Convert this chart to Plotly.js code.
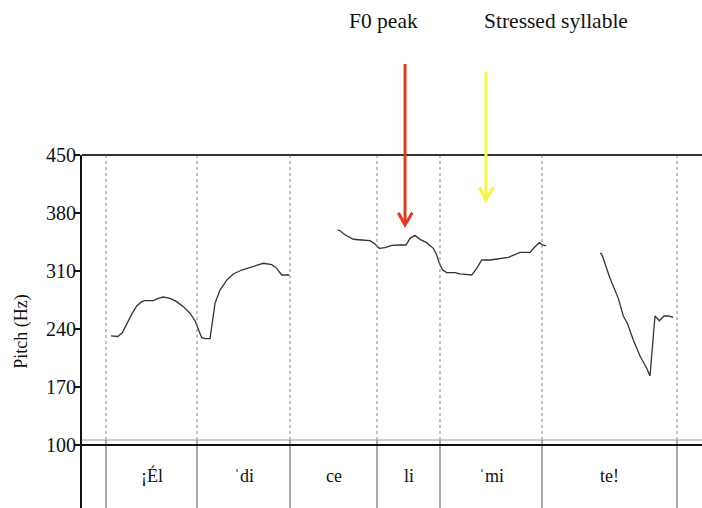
<!DOCTYPE html>
<html>
<head>
<meta charset="utf-8">
<script src="https://cdn.plot.ly/plotly-3.0.1.min.js"></script>
<style>html,body{margin:0;padding:0;background:#fff}#chart{width:702px;height:508px}</style>
</head>
<body>
<div id="chart"></div>
<script>
// ---- data (time in seconds, pitch in Hz) ----
const seg1Time = [0.0725,0.0893,0.1008,0.1118,0.1243,0.1368,0.1493,0.1575,0.1783,0.1908,0.2033,0.22,0.2368,0.2533,0.27,0.2825,0.2908,0.2993,0.3075,0.32,0.3325,0.345,0.3618,0.3783,0.3993,0.42,0.4368,0.4533,0.4743,0.4868,0.4993,0.5183];
const seg1Hz   = [231.6,231,235.5,246.9,258,267.8,273,274.2,274.2,277,278.6,277,273,267,259,250,240.8,229.5,228.3,228.3,271,287,299,306.4,311.2,314.5,317.6,319.3,317.6,313.2,305.2,305.2];
const seg2Time = [0.6393,0.645,0.6575,0.6783,0.6993,0.72,0.7325,0.7433,0.7575,0.7743,0.795,0.81,0.82,0.8325,0.845,0.8618,0.8783,0.8868,0.8933,0.9018,0.9118,0.9325,0.945,0.9743,0.9868,0.9993,1.02,1.045,1.0658,1.095,1.12,1.1325,1.1433,1.1518,1.16];
const seg2Hz   = [359.5,358.6,353.8,348.3,347.4,346.6,342.6,337.4,338.2,341,341.4,341.4,349.4,353,348.2,344.2,337.4,329.3,319.3,311.2,308,308,306.4,305.2,313.2,323.3,323.3,324.9,326.5,332.5,332.5,339.3,344.2,341.4,340.2];
const seg3Time = [1.295,1.2993,1.32,1.3408,1.3533,1.3633,1.3783,1.395,1.4118,1.42,1.4325,1.4433,1.455,1.4658,1.4783];
const seg3Hz   = [331.3,330.5,301.2,277,255.7,246.9,226.7,207.4,192.6,183.3,255.7,250,255.7,255.7,254.1];
const boundaries = [0.06,0.2875,0.52,0.7375,0.895,1.15,1.4875];
const syllables  = ["¡Él","ˈdi","ce","li","ˈmi","te!"];
const pitchTicks = [100,170,240,310,380,450];
const notes = ["F0 peak","Stressed syllable"];

// ---- layout helpers (pixel -> paper) ----
const L=82, R=702, T=155, B=508;
const px = x => (x-L)/(R-L);
const py = y => (B-y)/(B-T);
const yMax = 450, yMin = 450 - (B-T)*350/290;
const serif = "Times New Roman";

const lineStyle = {color:'#333', width:1.3};
const traces = [
  {x:seg1Time, y:seg1Hz, mode:'lines', line:lineStyle, hoverinfo:'skip'},
  {x:seg2Time, y:seg2Hz, mode:'lines', line:lineStyle, hoverinfo:'skip'},
  {x:seg3Time, y:seg3Hz, mode:'lines', line:lineStyle, hoverinfo:'skip'}
];

const tierTop = 106;
const shapes = [];
boundaries.forEach(b => {
  shapes.push({type:'line', xref:'x', yref:'y', x0:b, x1:b, y0:tierTop, y1:450, line:{color:'#888', width:1, dash:'dot'}});
  shapes.push({type:'line', xref:'x', yref:'y', x0:b, x1:b, y0:yMin, y1:tierTop, line:{color:'#555', width:1}});
});
shapes.push({type:'line', xref:'paper', yref:'paper', x0:0, x1:1, y0:1, y1:1, line:{color:'#333', width:2}});
shapes.push({type:'line', xref:'paper', yref:'y', x0:0, x1:1, y0:tierTop, y1:tierTop, line:{color:'#999', width:1}});
shapes.push({type:'line', xref:'paper', yref:'y', x0:0, x1:1, y0:100, y1:100, line:{color:'#111', width:2}});
// arrows
const red = '#e8371f', yellow = '#f6f645';
shapes.push({type:'line', xref:'paper', yref:'paper', x0:px(405), x1:px(405), y0:py(64), y1:py(224), line:{color:red, width:3}});
shapes.push({type:'path', xref:'paper', yref:'paper', path:`M${px(398.3)},${py(212.7)} L${px(405)},${py(225)} L${px(412.3)},${py(212.7)}`, line:{color:red, width:3}});
shapes.push({type:'line', xref:'paper', yref:'paper', x0:px(486), x1:px(486), y0:py(72), y1:py(199), line:{color:yellow, width:3}});
shapes.push({type:'path', xref:'paper', yref:'paper', path:`M${px(479.3)},${py(187.3)} L${px(486)},${py(200)} L${px(493.3)},${py(187.3)}`, line:{color:yellow, width:3}});

const annotations = [];
syllables.forEach((s,i) => {
  annotations.push({x:(boundaries[i]+boundaries[i+1])/2, y:62.6, xref:'x', yref:'y', text:s, showarrow:false,
    font:{family:serif, size:18, color:'#111'}, xanchor:'center', yanchor:'middle'});
});
annotations.push({x:px(383), y:py(21), xref:'paper', yref:'paper', text:notes[0], showarrow:false,
  font:{family:serif, size:21.5, color:'#111'}, xanchor:'center', yanchor:'middle'});
annotations.push({x:px(556), y:py(21), xref:'paper', yref:'paper', text:notes[1], showarrow:false,
  font:{family:serif, size:21.5, color:'#111'}, xanchor:'center', yanchor:'middle'});

const layout = {
  width:702, height:508,
  margin:{l:L, r:0, t:T, b:0, pad:0},
  font:{family:serif, size:20, color:'#111'},
  paper_bgcolor:'#fff', plot_bgcolor:'#fff',
  showlegend:false,
  xaxis:{range:[0,1.55], visible:false, fixedrange:true},
  yaxis:{range:[yMin,yMax], tickvals:pitchTicks, ticktext:pitchTicks.map(String),
    ticks:'outside', ticklen:6, tickwidth:1.5, tickcolor:'#111',
    showline:true, linecolor:'#111', linewidth:2, showgrid:false, zeroline:false,
    tickfont:{family:serif, size:20, color:'#111'}, ticklabelstandoff:-6,
    title:{text:'Pitch (Hz)', font:{family:serif, size:18, color:'#111'}, standoff:14},
    automargin:false, fixedrange:true},
  shapes:shapes,
  annotations:annotations
};
Plotly.newPlot('chart', traces, layout, {staticPlot:true, displayModeBar:false});
</script>
</body>
</html>
